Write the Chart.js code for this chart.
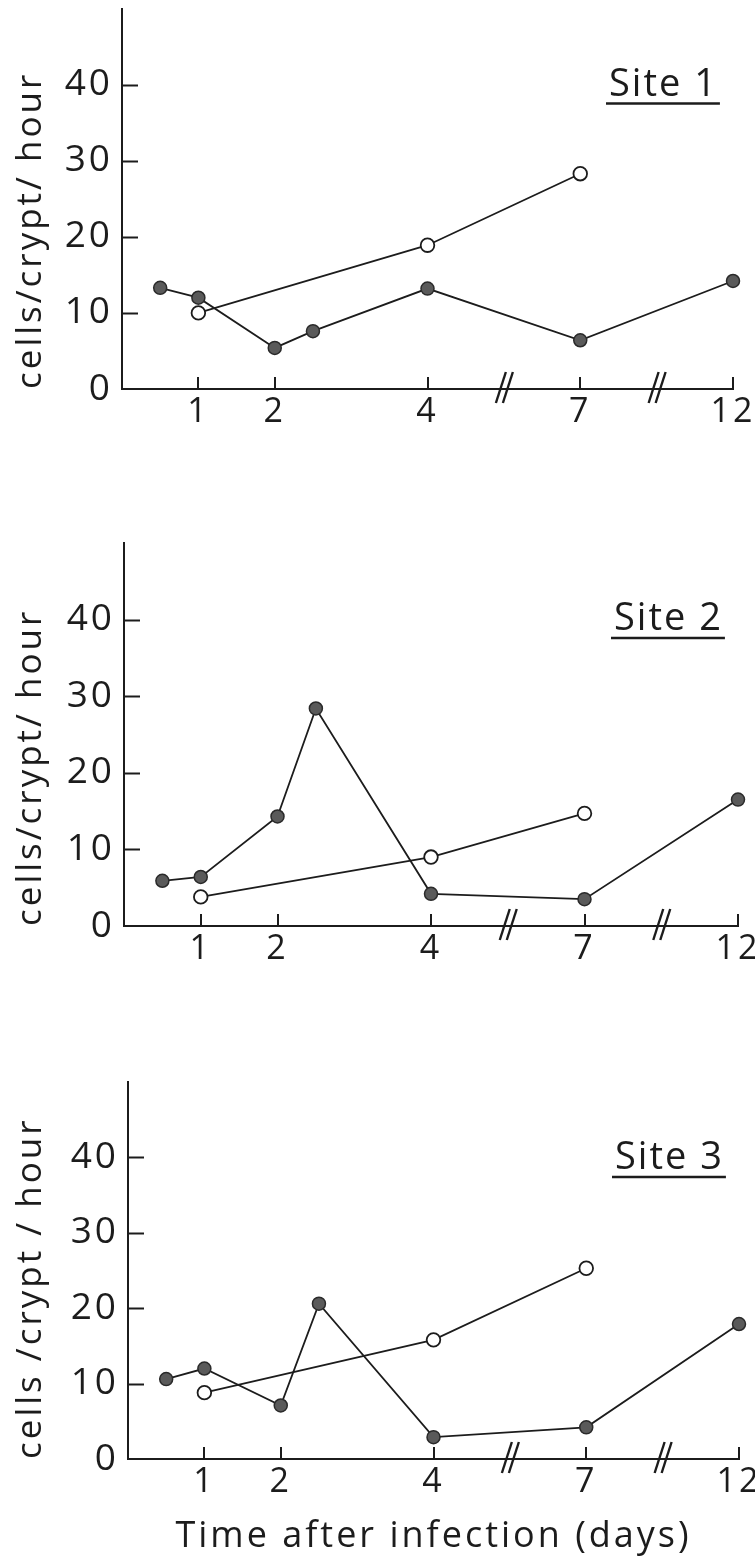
<!DOCTYPE html>
<html>
<head>
<meta charset="utf-8">
<script src="https://cdn.jsdelivr.net/npm/chart.js@4.4.1/dist/chart.umd.min.js"></script>
<style>
  html, body { margin: 0; padding: 0; background: #fff; }
  body { width: 755px; height: 1566px; position: relative; overflow: hidden; }
  canvas { position: absolute; left: 0; }
</style>
</head>
<body>
<canvas id="site1"></canvas>
<canvas id="site2"></canvas>
<canvas id="site3"></canvas>
<script>
// Sampling times (days after infection)
const infectedDays = [0.5, 1, 2, 2.5, 4, 7, 12];
const controlDays = [1, 4, 7];

// Cells per crypt per hour, filled markers
const site1Infected = [13.3, 12.0, 5.4, 7.6, 13.2, 6.4, 14.2];
const site2Infected = [5.9, 6.4, 14.3, 28.4, 4.2, 3.5, 16.5];
const site3Infected = [10.6, 12.0, 7.1, 20.6, 2.9, 4.2, 17.9];

// Cells per crypt per hour, open markers
const site1Control = [10.0, 18.9, 28.3];
const site2Control = [3.8, 9.0, 14.7];
const site3Control = [8.8, 15.8, 25.3];

// Axis ticks and labels
const dayTicks = [1, 2, 4, 7, 12];
const valueTicks = [0, 10, 20, 30, 40];
const breakDays = [5.5, 9.5];
const siteNames = ['Site 1', 'Site 2', 'Site 3'];
const yTitles = ['cells/crypt/ hour', 'cells/crypt/ hour', 'cells /crypt / hour'];
const xTitle = 'Time after infection (days)';

// Broken time axis: days 0-4 at full scale, 4-7 and 7-12 each squeezed into two units
const axisKnots = [[0, 0], [4, 4], [7, 6], [12, 8]];
function dayToAxis(d) {
  for (let i = 1; i < axisKnots.length; i++) {
    const [d0, a0] = axisKnots[i - 1], [d1, a1] = axisKnots[i];
    if (d <= d1) return a0 + (d - d0) * (a1 - a0) / (d1 - d0);
  }
  return axisKnots[axisKnots.length - 1][1];
}

const W = 755;
const FONT = '"Open Sans", "DejaVu Sans", sans-serif';
const INK = '#1c1c1c';
const TRACKING = '3px';

// Canvas placement and plot rectangle for each panel (canvas-local pixels)
const layouts = [
  { top: 0,    height: 440, left: 122, right: 733, plotTop: 8,  plotBottom: 389 },
  { top: 500,  height: 476, left: 124, right: 738, plotTop: 43, plotBottom: 426 },
  { top: 1030, height: 536, left: 128, right: 739, plotTop: 52, plotBottom: 429 }
];

const panelDecor = {
  id: 'panelDecor',
  beforeLayout(chart) { chart.ctx.letterSpacing = TRACKING; },
  beforeDraw(chart) { chart.ctx.letterSpacing = TRACKING; },
  afterDraw(chart, args, opts) {
    const { ctx, chartArea: a, scales: { x, y } } = chart;
    const seg = (x0, y0, x1, y1) => { ctx.beginPath(); ctx.moveTo(x0, y0); ctx.lineTo(x1, y1); ctx.stroke(); };
    ctx.save();
    ctx.strokeStyle = INK;
    ctx.lineWidth = 2;
    ctx.lineCap = 'butt';
    // inward ticks on the value axis
    valueTicks.filter(v => v > 0).forEach(v => {
      const py = Math.round(y.getPixelForValue(v)) + 0.5;
      seg(a.left, py, a.left + 16, py);
    });
    // inward ticks on the time axis
    dayTicks.forEach(d => {
      const px = Math.round(x.getPixelForValue(dayToAxis(d)));
      seg(px, a.bottom, px, a.bottom - 12);
    });
    // axis break marks
    ctx.lineWidth = 2.4;
    breakDays.forEach(d => {
      const px = x.getPixelForValue(dayToAxis(d));
      [-3, 4].forEach(k => seg(px + k - 5, a.bottom + 14, px + k + 5, a.bottom - 17));
    });
    // underlined site name
    ctx.letterSpacing = '2px';
    ctx.font = '400 38px ' + FONT;
    ctx.fillStyle = INK;
    ctx.textAlign = 'left';
    ctx.textBaseline = 'alphabetic';
    const tx = a.right - 124, ty = a.top + 87;
    ctx.fillText(opts.label, tx, ty);
    const w = ctx.measureText(opts.label).width;
    ctx.lineWidth = 2.5;
    seg(tx - 3, ty + 8, tx + w + 2, ty + 8);
    ctx.restore();
  }
};

function makePanel(index, infected, control) {
  const L = layouts[index];
  const canvas = document.getElementById('site' + (index + 1));
  canvas.width = W;
  canvas.height = L.height;
  canvas.style.top = L.top + 'px';
  canvas.style.width = W + 'px';
  canvas.style.height = L.height + 'px';
  const showXTitle = index === 2;

  return new Chart(canvas, {
    type: 'line',
    data: {
      datasets: [
        {
          label: 'Control',
          data: controlDays.map((d, i) => ({ x: dayToAxis(d), y: control[i] })),
          borderColor: INK,
          borderWidth: 1.8,
          pointRadius: 6.8,
          pointBackgroundColor: '#fff',
          pointBorderColor: INK,
          pointBorderWidth: 1.8,
          tension: 0,
          fill: false,
          clip: false
        },
        {
          label: 'Infected',
          data: infectedDays.map((d, i) => ({ x: dayToAxis(d), y: infected[i] })),
          borderColor: INK,
          borderWidth: 1.8,
          pointRadius: 6.5,
          pointBackgroundColor: '#5a5a5a',
          pointBorderColor: '#2a2a2a',
          pointBorderWidth: 1.5,
          tension: 0,
          fill: false,
          clip: false
        }
      ]
    },
    options: {
      responsive: false,
      animation: false,
      devicePixelRatio: 1,
      layout: { padding: { left: 0, right: W - L.right, top: L.plotTop, bottom: 0 } },
      plugins: {
        legend: { display: false },
        tooltip: { enabled: false },
        panelDecor: { label: siteNames[index] }
      },
      scales: {
        x: {
          type: 'linear',
          min: 0,
          max: dayToAxis(12),
          grid: { display: false, drawTicks: false },
          border: { display: true, color: INK, width: 2 },
          afterBuildTicks: s => { s.ticks = dayTicks.map(d => ({ value: dayToAxis(d) })); },
          afterFit: s => { s.height = L.height - L.plotBottom; s.paddingLeft = 0; s.paddingRight = 0; },
          ticks: {
            autoSkip: false,
            maxRotation: 0,
            padding: 3,
            color: INK,
            font: { family: FONT, size: 34, weight: '400' },
            callback: (v, i) => String(dayTicks[i])
          },
          title: {
            display: showXTitle,
            text: xTitle,
            color: INK,
            font: { family: FONT, size: 36, weight: '400' },
            padding: { top: 0, bottom: 8 }
          }
        },
        y: {
          min: 0,
          max: 50,
          grid: { display: false, drawTicks: false },
          border: { display: true, color: INK, width: 2 },
          afterBuildTicks: s => { s.ticks = valueTicks.map(v => ({ value: v })); },
          afterFit: s => { s.width = L.left; s.paddingTop = 0; s.paddingBottom = 0; },
          ticks: {
            padding: 9,
            color: INK,
            font: { family: FONT, size: 37, weight: '400' },
            callback: v => String(v)
          },
          title: {
            display: true,
            text: yTitles[index],
            align: 'start',
            color: INK,
            font: { family: FONT, size: 35, weight: '400' },
            padding: { top: 10, bottom: 0 }
          }
        }
      }
    },
    plugins: [panelDecor]
  });
}

makePanel(0, site1Infected, site1Control);
makePanel(1, site2Infected, site2Control);
makePanel(2, site3Infected, site3Control);
</script>
</body>
</html>
